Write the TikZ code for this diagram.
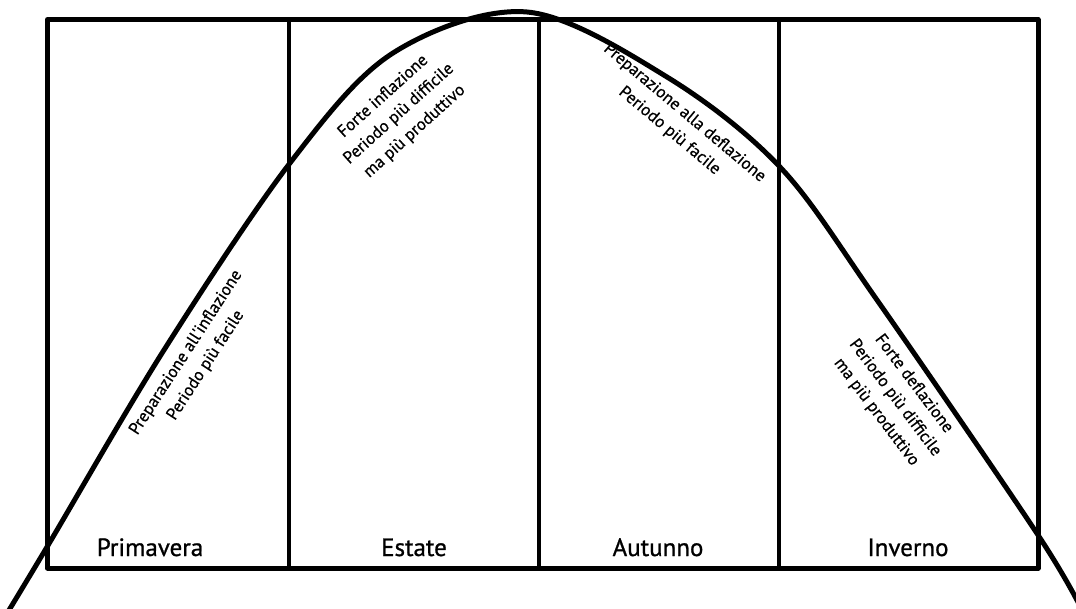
\documentclass[tikz,border=0pt]{standalone}
\usepackage{fontspec}
\setmainfont{PT Sans}
\newfontfamily\notefont{PT Sans}[FakeBold=0.6]
\newfontfamily\seasonfont{PT Sans}[FakeBold=0.9]
\begin{document}
\begin{tikzpicture}[x=1pt,y=-1pt,line join=round,
  frame/.style={line width=5pt},
  divider/.style={line width=3.5pt},
  wave/.style={line width=5pt,line cap=round},
  season/.style={font=\seasonfont\fontsize{25}{30}\selectfont,anchor=base,inner sep=0pt},
  note/.style={font=\notefont\fontsize{17}{23.5}\selectfont,align=center,inner sep=0pt}]
\useasboundingbox (0,0) rectangle (1076,609);
\clip (0,0) rectangle (1076,609);
% frame and dividers
\coordinate (tl) at (47.5,19.5);
\coordinate (br) at (1038,568);
\draw[frame] (tl) rectangle (br);
\coordinate (d1t) at (289,19.5);  \coordinate (d1b) at (289,568);
\coordinate (d2t) at (539,19.5);  \coordinate (d2b) at (539,568);
\coordinate (d3t) at (779,19.5);  \coordinate (d3b) at (779,568);
\draw[divider] (d1t) -- (d1b);
\draw[divider] (d2t) -- (d2b);
\draw[divider] (d3t) -- (d3b);
% season labels
\node[season] (prim) at (150,556) {Primavera};
\node[season] (est) at (414,556) {Estate};
\node[season] (aut) at (658,556) {Autunno};
\node[season] (inv) at (908,556) {Inverno};
% curve
\draw[wave] plot[smooth,tension=0.55] coordinates {(0,625) (47,547) (164,350) (290,163) (393,53) (527,12) (667,77) (780,167) (877,300) (1038,535) (1084,614)};
% notes
\node[note,rotate=57] (n1) at (196,359) {Preparazione all'inflazione\\Periodo più facile};
\node[note,rotate=42] (n2) at (399,114) {Forte inflazione\\Periodo più difficile\\ma più produttivo};
\node[note,rotate=-40] (n3) at (677,122) {Preparazione alla deflazione\\Periodo più facile};
\node[note,rotate=-53] (n4) at (895,398) {Forte deflazione\\Periodo più difficile\\ma più produttivo};
\end{tikzpicture}
\end{document}
